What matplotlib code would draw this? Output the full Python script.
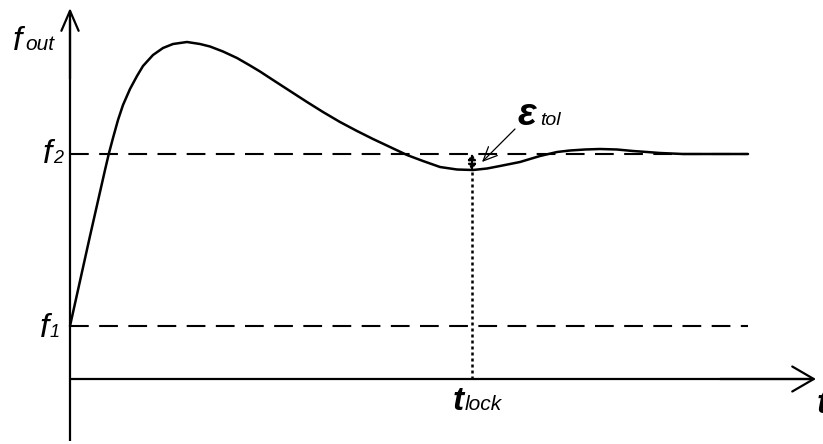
import matplotlib
matplotlib.use("Agg")
import matplotlib.pyplot as plt
from matplotlib.patches import FancyArrowPatch

# Frequency levels and lock time (arbitrary units)
f1 = 53
f2 = 225
t_lock = 402
t_end = 678

# Step response of the output frequency
t_vals = [0, 10, 20, 30, 35, 39, 43, 48, 53, 60, 67, 73, 83, 93, 103, 117,
          130, 140, 153, 167, 180, 190, 203, 220, 237, 253, 270, 287, 303,
          320, 337, 353, 370, 387, 403, 417, 430, 450, 470, 487, 500, 515,
          530, 547, 563, 577, 590, 613, 678]
f_vals = [53, 98, 143, 187, 209, 226, 241, 259, 274, 290, 303, 313, 324,
          331, 335, 337, 335, 332.5, 327.5, 321, 313.5, 307.5, 299, 288, 277,
          267, 257, 248, 240, 232, 224, 218, 212, 209.5, 209, 210.5, 213, 217,
          223, 227, 228.5, 229.5, 230, 229.5, 228, 227, 226, 225, 225]

eps_pos = (448, 254)      # label anchor for the tolerance band
eps_tail = (445, 250)     # start of the pointer
eps_tip = (412, 217)      # where the pointer meets the band

plt.rcParams["font.family"] = ["Liberation Sans", "DejaVu Sans"]

fig = plt.figure(figsize=(8.23, 4.44), dpi=100)
ax = fig.add_axes([0, 0, 1, 1])
ax.set_xlim(-70, 753)
ax.set_ylim(-65, 379)
ax.axis("off")

lw = 1.6
# axes with open arrowheads
ax.plot([0, 0], [-62, 360], color="black", lw=lw, solid_capstyle="butt")
ax.annotate("", xy=(0, 371), xytext=(0, 300),
            arrowprops=dict(arrowstyle="->, head_length=1.44, head_width=0.62",
                            lw=lw, color="black", shrinkA=0, shrinkB=0,
                            mutation_scale=10))
ax.plot([0, 740], [0, 0], color="black", lw=lw, solid_capstyle="butt")
ax.annotate("", xy=(746, 0), xytext=(650, 0),
            arrowprops=dict(arrowstyle="->, head_length=1.55, head_width=0.9",
                            lw=lw, color="black", shrinkA=0, shrinkB=0,
                            mutation_scale=10))

# reference levels
for lvl in (f1, f2):
    ax.plot([0, t_end], [lvl, lvl], color="black", lw=1.5,
            linestyle=(0, (9, 5)), dash_capstyle="butt")

# response curve
ax.plot(t_vals, f_vals, color="black", lw=1.8, solid_joinstyle="round",
        solid_capstyle="round")

# lock time marker and tolerance band
f_min = min(f_vals[25:])
ax.plot([t_lock, t_lock], [0, f_min], color="black", lw=1.8,
        linestyle=(0, (1.2, 1.2)), dash_capstyle="butt")
ax.add_patch(FancyArrowPatch((t_lock, f_min), (t_lock, f2),
                             arrowstyle="<|-|>, head_length=0.32, head_width=0.22",
                             mutation_scale=10, lw=1.5, linestyle=(0, (1.2, 1.2)),
                             color="black", shrinkA=0, shrinkB=0))
ax.annotate("", xy=eps_tip, xytext=eps_tail,
            arrowprops=dict(arrowstyle="->, head_length=1.0, head_width=0.45",
                            lw=0.9, color="black", shrinkA=0, shrinkB=0,
                            mutation_scale=10))

# labels
big = 24
kw = dict(ha="left", va="baseline", style="italic", color="black")
ax.text(-57, 329, "f", fontsize=big, **kw)
ax.text(-45, 329, "out", fontsize=15, **kw)
ax.text(-27, 216, "f", fontsize=big, **kw)
ax.text(-17, 216, "2", fontsize=13, **kw)
ax.text(-30, 42, "f", fontsize=big, **kw)
ax.text(-20, 42, "1", fontsize=13, **kw)
ax.text(383, -31, "t", fontsize=big, weight="bold", **kw)
ax.text(395, -31, "lock", fontsize=15, **kw)
ax.text(747, -34, "t", fontsize=big, weight="bold", **kw)
ax.text(eps_pos[0], eps_pos[1], "ε", fontsize=28, weight="bold", **kw)
ax.text(eps_pos[0] + 22, eps_pos[1], "tol", fontsize=14, **kw)

fig.savefig("out.png", dpi=100)
